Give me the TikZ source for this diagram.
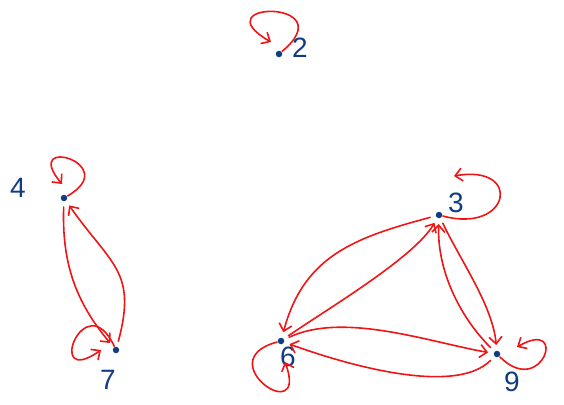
\documentclass[tikz,border=0pt]{standalone}
\usepackage{fontspec}
\setmainfont{Liberation Sans}
\usetikzlibrary{arrows.meta}
\definecolor{rojo}{RGB}{240,20,20}
\definecolor{azul}{RGB}{15,60,130}

\begin{document}
\begin{tikzpicture}[x=1pt, y=-1pt, >={Straight Barb[length=7pt,width=13pt]}, line width=1.6pt,
  punto/.style={circle, fill=azul, inner sep=0pt, minimum size=6.5pt},
  etiq/.style={text=azul, font=\fontsize{28}{28}\selectfont},
  flecha/.style={->, draw=rojo, line cap=round, line join=round, shorten >=5pt, shorten <=5pt},
  ciclo/.style={->, draw=rojo, line cap=round, line join=round}]
  \useasboundingbox (0,0) rectangle (564,404);
  % vértices
  \node[punto] (n2) at (279,54) {};
  \node[punto] (n4) at (64,198) {};
  \node[punto] (n7) at (116,350) {};
  \node[punto] (n3) at (439,215) {};
  \node[punto] (n6) at (281,341) {};
  \node[punto] (n9) at (497,354) {};
  % etiquetas
  \node[etiq] (l2) at (300,48) {2};
  \node[etiq] (l4) at (18,188) {4};
  \node[etiq] (l7) at (108,380) {7};
  \node[etiq] (l3) at (456,203) {3};
  \node[etiq] (l6) at (288,357) {6};
  \node[etiq] (l9) at (512,382) {9};
  % extremos de los ciclos
  \coordinate (t2) at (271,42);
  \coordinate (t4) at (62,184);
  \coordinate (t7) at (101,350);
  \coordinate (t3) at (454,176);
  \coordinate (t6) at (285,362);
  \coordinate (t9) at (517,347);
  % ciclos
  \draw[ciclo] (n2) to[out=40, in=150, distance=82pt] (t2);
  \draw[ciclo] (n4) to[out=30, in=130, distance=65pt] (t4);
  \draw[ciclo] (n7) to[out=115, in=215, distance=70pt] (t7);
  \draw[ciclo] (n3) to[out=-15, in=10, distance=70pt] (t3);
  \draw[ciclo] (n6) to[out=195, in=-70, distance=72pt] (t6);
  \draw[ciclo] (n9) to[out=-45, in=30, distance=60pt] (t9);
  % aristas
  \draw[flecha] (n4) to[out=-92, in=130] (n7);
  \draw[flecha] (n7) to[out=75, in=-55, looseness=1.3] (n4);
  \draw[flecha] (n3) to[out=195, in=75, looseness=1.1] (n6);
  \draw[flecha] (n6) to[out=35, in=-120, looseness=0.6] (n3);
  \draw[flecha] (n3) to[out=-65, in=95, looseness=0.8] (n9);
  \draw[flecha] (n9) to[out=135, in=-92, looseness=0.9] (n3);
  \draw[flecha] (n6) to[out=25, in=170, looseness=0.8] (n9);
  \draw[flecha] (n9) to[out=-135, in=-20, looseness=0.7] (n6);
\end{tikzpicture}
\end{document}
